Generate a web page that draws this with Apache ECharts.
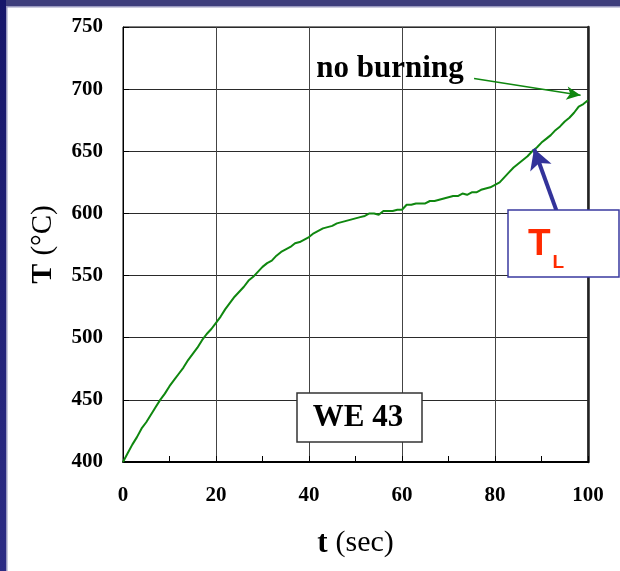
<!DOCTYPE html>
<html lang="en">
<head>
<meta charset="UTF-8">
<title>WE 43</title>
<script src="https://cdn.jsdelivr.net/npm/echarts@6/dist/echarts.min.js"></script>
<style>
  html, body { margin: 0; padding: 0; background: #fff; }
  #main { width: 620px; height: 571px; }
</style>
</head>
<body>
<div id="main"></div>
<script>
// time (s) and temperature (°C)
var times = [];
for (var i = 0; i <= 100; i++) times.push(i);
var temps = [
  400, 407, 414, 420, 427, 432, 438, 444, 450, 455,
  461, 466, 471, 476, 482, 487, 492, 498, 503, 507,
  512, 517, 523, 528, 533, 537, 541, 546, 549, 553,
  557, 560, 562, 566, 569, 571, 573, 576, 577, 579,
  581, 584, 586, 588, 589, 590, 592, 593, 594, 595,
  596, 597, 598, 600, 600, 599, 602, 602, 602, 603,
  603, 607, 607, 608, 608, 608, 610, 610, 611, 612,
  613, 614, 614, 616, 615, 617, 617, 619, 620, 621,
  623, 625, 629, 633, 637, 640, 643, 646, 650, 653,
  657, 660, 663, 667, 670, 674, 677, 681, 686, 688,
  691
];
var xTicks = [0, 20, 40, 60, 80, 100];
var yTicks = [400, 450, 500, 550, 600, 650, 700, 750];

// arrows, in data coordinates
var noBurnArrow = [[75.5, 708.5], [98.4, 695]];
var tlArrow = [[93.2, 602.5], [88.4, 652]];

var serif = '"Liberation Serif", "Times New Roman", serif';
var sans = '"Liberation Sans", Arial, sans-serif';

var chart = echarts.init(document.getElementById('main'));

var option = {
  backgroundColor: '#fff',
  animation: false,
  grid: { left: 123, top: 27, right: 32, bottom: 109, show: true, borderColor: '#000', borderWidth: 1 },
  xAxis: {
    type: 'value', min: xTicks[0], max: xTicks[xTicks.length - 1], interval: 20,
    name: '{b|t}{n|(sec)}',
    nameLocation: 'middle', nameGap: 66,
    nameTextStyle: { rich: {
      b: { fontFamily: serif, fontWeight: 'bold', fontSize: 31, color: '#000' },
      n: { fontFamily: serif, fontSize: 30, color: '#000', padding: [0, 0, 0, 8] }
    } },
    axisLine: { lineStyle: { color: '#000', width: 2 } },
    axisTick: { show: true, inside: true, length: 6, lineStyle: { color: '#000' } },
    minorTick: { show: true, splitNumber: 2, length: 6, lineStyle: { color: '#000' } },
    axisLabel: { margin: 23, fontFamily: serif, fontWeight: 'bold', fontSize: 21, color: '#000' },
    splitLine: { show: true, lineStyle: { color: '#444', width: 1 } }
  },
  yAxis: [{
    type: 'value', min: yTicks[0], max: yTicks[yTicks.length - 1], interval: 50,
    name: '{b|T}{n|(°C)}',
    nameLocation: 'middle', nameGap: 65, nameRotate: 90,
    nameTextStyle: { rich: {
      b: { fontFamily: serif, fontWeight: 'bold', fontSize: 30, color: '#000' },
      n: { fontFamily: serif, fontSize: 29, color: '#000', padding: [0, 0, 0, 8] }
    } },
    axisLine: { show: true, lineStyle: { color: '#000', width: 1 } },
    axisTick: { show: true, inside: true, length: 6, lineStyle: { color: '#000' } },
    axisLabel: { margin: 20, fontFamily: serif, fontWeight: 'bold', fontSize: 21, color: '#000' },
    splitLine: { show: true, lineStyle: { color: '#2a2a2a', width: 1 } }
  }, {
    type: 'value', position: 'right', min: 400, max: 750,
    axisLine: { show: true, lineStyle: { color: '#222', width: 2.5 } },
    axisTick: { show: false }, axisLabel: { show: false }, splitLine: { show: false }
  }],
  series: [{
    type: 'line',
    data: times.map(function (t, i) { return [t, temps[i]]; }),
    showSymbol: false,
    lineStyle: { color: '#0f870f', width: 2 },
    markLine: {
      silent: true,
      label: { show: false },
      data: [
        [{ coord: noBurnArrow[0], symbol: 'none', lineStyle: { color: '#0f870f', width: 1.5, type: 'solid' } },
         { coord: noBurnArrow[1], symbol: 'arrow', symbolSize: [10, 14] }],
        [{ coord: tlArrow[0], symbol: 'none', lineStyle: { color: '#33339a', width: 4, type: 'solid' } },
         { coord: tlArrow[1], symbol: 'arrow', symbolSize: [17, 20] }]
      ]
    }
  }],
  graphic: [
    // slide frame
    { type: 'rect', shape: { x: 0, y: 0, width: 620, height: 6 }, style: { fill: '#3e3e7c' } },
    { type: 'rect', shape: { x: 0, y: 6, width: 620, height: 1.5 }, style: { fill: '#9a9ac0' } },
    { type: 'rect', shape: { x: 0, y: 0, width: 6, height: 571 },
      style: { fill: new echarts.graphic.LinearGradient(0, 0, 0, 1, [
        { offset: 0, color: '#16166a' }, { offset: 1, color: '#2c2c84' }]) } },
    { type: 'rect', shape: { x: 6, y: 6, width: 1.5, height: 565 }, style: { fill: '#9a9ac0' } },
    // no burning label
    { type: 'text', x: 390, y: 69, z: 10,
      style: { text: 'no burning', fontFamily: serif, fontWeight: 'bold', fontSize: 31,
        fill: '#000', align: 'center', verticalAlign: 'middle' } },
    // WE 43 box
    { type: 'rect', z: 10, shape: { x: 297, y: 393, width: 125, height: 49 },
      style: { fill: '#fff', stroke: '#333', lineWidth: 1.5 } },
    { type: 'text', x: 358, y: 418, z: 11,
      style: { text: 'WE 43', fontFamily: serif, fontWeight: 'bold', fontSize: 31,
        fill: '#000', align: 'center', verticalAlign: 'middle' } },
    // T_L box
    { type: 'rect', z: 10, shape: { x: 508, y: 210, width: 111, height: 67 },
      style: { fill: '#fff', stroke: '#3a3aa0', lineWidth: 1.5 } },
    { type: 'text', x: 528, y: 226, z: 11,
      style: { text: '{t|T}{l|L}', fill: '#ff2a00',
        rich: {
          t: { fontFamily: sans, fontWeight: 'bold', fontSize: 37, color: '#ff2a00', verticalAlign: 'bottom' },
          l: { fontFamily: sans, fontWeight: 'bold', fontSize: 19, color: '#ff2a00', verticalAlign: 'bottom', padding: [0, 0, -9, 2] }
        } } }
  ]
};

chart.setOption(option);
</script>
</body>
</html>
